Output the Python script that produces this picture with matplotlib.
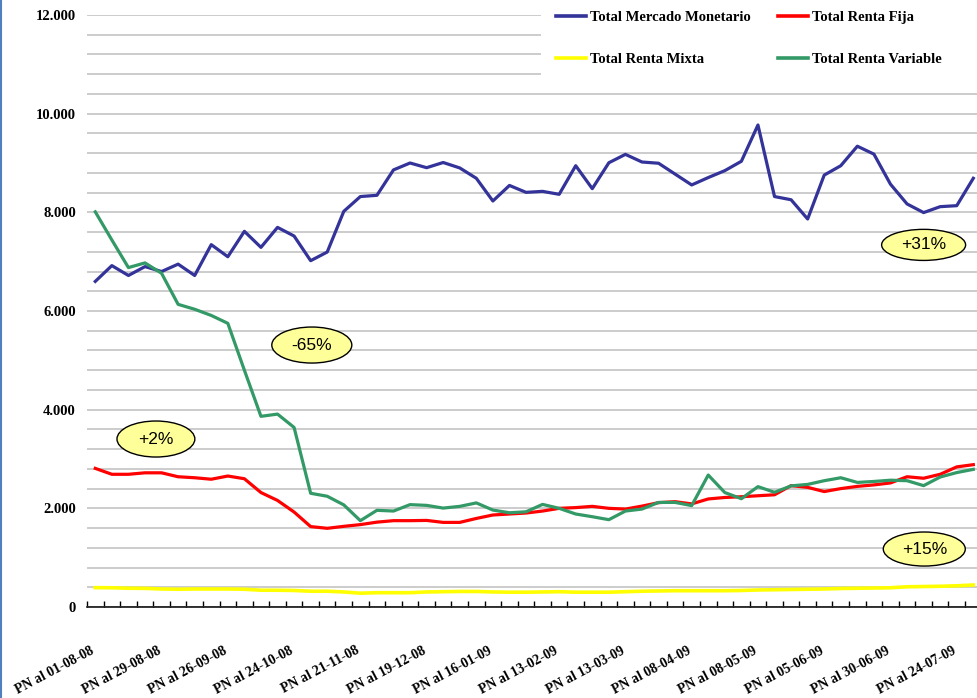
import matplotlib
matplotlib.use("Agg")
import matplotlib.pyplot as plt
from matplotlib.patches import Ellipse, Rectangle
from matplotlib.lines import Line2D
import numpy as np

plt.rcParams['font.family'] = ['Liberation Serif', 'DejaVu Serif']

# weekly values, 54 weeks (PN al 01-08-08 ... end of July 09)
monetario = [6600, 6920, 6720, 6900, 6800, 6950, 6720, 7345, 7100, 7615,
             7290, 7695, 7520, 7020, 7195, 8020, 8320, 8345, 8860, 9000,
             8905, 9010, 8900, 8690, 8230, 8545, 8405, 8425, 8365, 8945,
             8480, 9005, 9175, 9020, 8995, 8775, 8555, 8705, 8845, 9035,
             9770, 8320, 8255, 7865, 8755, 8945, 9340, 9180, 8570, 8170,
             7995, 8115, 8135, 8690]
renta_fija = [2810, 2690, 2690, 2720, 2720, 2640, 2620, 2590, 2655, 2600,
              2320, 2160, 1925, 1630, 1595, 1635, 1670, 1720, 1750, 1750,
              1755, 1715, 1715, 1795, 1865, 1885, 1905, 1945, 2000, 2015,
              2040, 2000, 1985, 2045, 2115, 2135, 2090, 2190, 2220, 2235,
              2255, 2275, 2460, 2425, 2340, 2400, 2445, 2475, 2515, 2640,
              2610, 2690, 2840, 2885]
renta_mixta = [392, 390, 380, 378, 365, 360, 365, 365, 365, 360,
               340, 340, 335, 320, 320, 305, 280, 290, 290, 290,
               305, 310, 315, 315, 305, 300, 300, 305, 310, 300,
               300, 300, 310, 320, 325, 330, 330, 330, 330, 335,
               345, 350, 355, 360, 365, 375, 380, 385, 390, 410,
               415, 420, 430, 446]
renta_variable = [8010, 7440, 6880, 6975, 6765, 6135, 6035, 5910, 5750, 4800,
                  3865, 3910, 3640, 2305, 2245, 2070, 1750, 1960, 1945, 2075,
                  2060, 2005, 2040, 2110, 1965, 1910, 1930, 2080, 2000, 1885,
                  1830, 1770, 1945, 1985, 2120, 2120, 2055, 2675, 2320, 2195,
                  2440, 2325, 2455, 2485, 2560, 2620, 2525, 2545, 2570, 2560,
                  2460, 2635, 2725, 2790]

tick_labels = ["PN al 01-08-08", "PN al 29-08-08", "PN al 26-09-08", "PN al 24-10-08",
               "PN al 21-11-08", "PN al 19-12-08", "PN al 16-01-09", "PN al 13-02-09",
               "PN al 13-03-09", "PN al 08-04-09", "PN al 08-05-09", "PN al 05-06-09",
               "PN al 30-06-09", "PN al 24-07-09"]

# (text, x in weeks, y in value, width in weeks, height in value)
notes = [("+2%", 3.66, 3405, 4.7, 730),
         ("-65%", 13.07, 5310, 4.83, 730),
         ("+31%", 50.0, 7340, 5.07, 630),
         ("+15%", 50.04, 1175, 4.95, 690)]

x = np.arange(len(monetario))

fig = plt.figure(figsize=(9.78, 6.98), dpi=100)
ax = fig.add_axes([87 / 978, 91 / 698, 894.6 / 978, 592 / 698])

l_mon, = ax.plot(x, monetario, color='#333399', lw=2.3, label='Total Mercado Monetario', zorder=3)
l_fij, = ax.plot(x, renta_fija, color='#FF0000', lw=2.3, label='Total Renta Fija', zorder=3)
l_mix, = ax.plot(x, renta_mixta, color='#FFFF00', lw=2.6, label='Total Renta Mixta', zorder=3)
l_var, = ax.plot(x, renta_variable, color='#339966', lw=2.3, label='Total Renta Variable', zorder=3)

ax.set_xlim(-0.5, len(x) - 0.5)
ax.set_ylim(0, 12000)

# grid every 400, labels every 2000
ax.set_yticks(np.arange(0, 12001, 2000))
ax.set_yticks(np.arange(0, 12001, 400), minor=True)
ax.set_yticklabels([f"{v:,.0f}".replace(",", ".") for v in np.arange(0, 12001, 2000)],
                   fontsize=10.5, fontweight='bold')
ax.grid(axis='y', which='both', color='#c4c4c4', lw=1.2, zorder=0)
ax.tick_params(axis='y', which='both', length=0, pad=8)

ax.set_xticks(np.arange(0, len(x), 4))
ax.set_xticklabels(tick_labels, rotation=28, ha='right', va='baseline',
                   rotation_mode='anchor', fontsize=10, fontweight='bold')
ax.set_xticks(np.arange(-0.5, len(x), 1), minor=True)
ax.tick_params(axis='x', which='major', length=0, pad=33)
ax.tick_params(axis='x', which='minor', direction='in', length=4, width=1, color='black')

for s in ['top', 'right', 'left']:
    ax.spines[s].set_visible(False)
ax.spines['bottom'].set_color('black')
ax.spines['bottom'].set_linewidth(1.1)

for txt, cx, cy, w, h in notes:
    ax.add_patch(Ellipse((cx, cy), w, h, facecolor='#FFFF99', edgecolor='black',
                         lw=1, zorder=5))
    ax.text(cx, cy, txt, ha='center', va='center', fontsize=12.5, zorder=6,
            family='Liberation Sans')

# white box behind the legend hides the grid lines there
ax.add_patch(Rectangle((541 / 978, 1 - 79 / 698), 1, 79 / 698, transform=fig.transFigure,
                       facecolor='white', edgecolor='none', clip_on=False, zorder=4))
leg = ax.legend([l_mon, l_mix, l_fij, l_var],
                ['Total Mercado Monetario', 'Total Renta Mixta',
                 'Total Renta Fija', 'Total Renta Variable'],
                ncol=2, loc='upper left', bbox_to_anchor=(541 / 978, 1 + 3.5 / 698),
                bbox_transform=fig.transFigure, frameon=False,
                prop={'size': 10.5, 'weight': 'bold'}, handlelength=2.1,
                handletextpad=0.27, labelspacing=1.95, columnspacing=1.85,
                borderpad=1.0, borderaxespad=0)
leg.set_zorder(6)
for line in leg.get_lines():
    line.set_linewidth(2.6)

fig.add_artist(Line2D([0.001, 0.001], [0, 1], transform=fig.transFigure,
                      color='#4F81BD', lw=1.5))

fig.savefig("out.png", dpi=100)
